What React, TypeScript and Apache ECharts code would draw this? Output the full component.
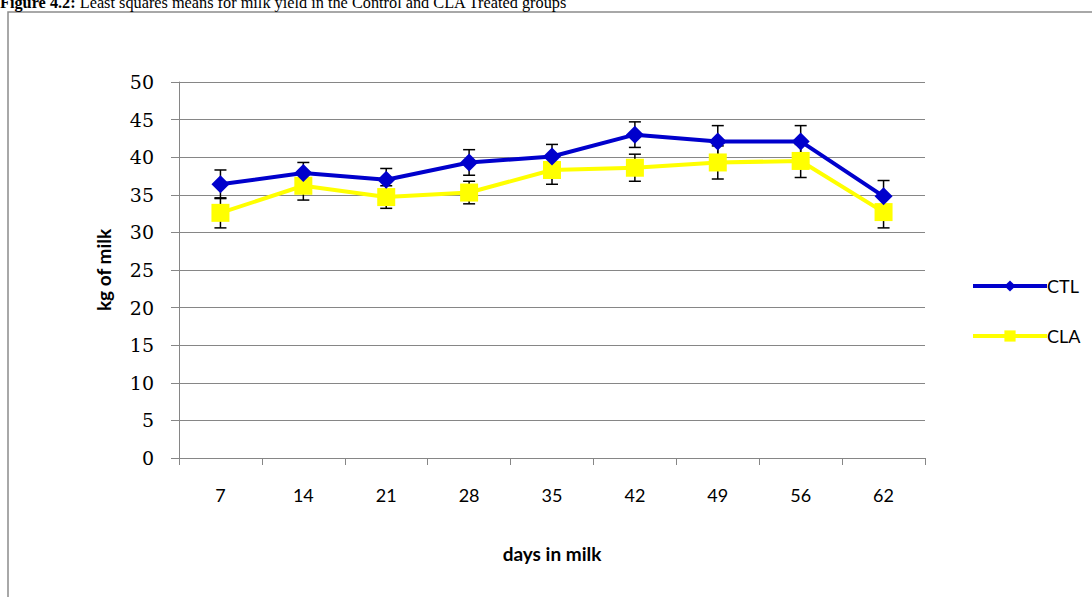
import React, { useEffect, useRef } from "react";
import * as echarts from "echarts";

const days = ["7", "14", "21", "28", "35", "42", "49", "56", "62"];
const ctl = [36.4, 37.9, 37.0, 39.3, 40.1, 43.0, 42.1, 42.1, 34.8];
const ctlErr = [1.9, 1.4, 1.5, 1.7, 1.6, 1.7, 2.1, 2.1, 2.1];
const cla = [32.6, 36.2, 34.7, 35.3, 38.3, 38.6, 39.3, 39.5, 32.7];
const claErr = [2.0, 1.9, 1.5, 1.5, 1.9, 1.8, 2.2, 2.2, 2.1];
const yTicks = { min: 0, max: 50, interval: 5 };

function errData(vals: number[], errs: number[]) {
  return vals.map((v, i) => [i, v - errs[i], v + errs[i]]);
}

const errRender = (params: any, api: any) => {
  const x = api.value(0);
  const lo = api.coord([x, api.value(1)]);
  const hi = api.coord([x, api.value(2)]);
  const hw = 6;
  const st = { stroke: "#000", lineWidth: 1.5 };
  return {
    type: "group",
    children: [
      { type: "line", shape: { x1: lo[0], y1: lo[1], x2: hi[0], y2: hi[1] }, style: st },
      { type: "line", shape: { x1: lo[0] - hw, y1: lo[1], x2: lo[0] + hw, y2: lo[1] }, style: st },
      { type: "line", shape: { x1: hi[0] - hw, y1: hi[1], x2: hi[0] + hw, y2: hi[1] }, style: st },
    ],
  };
};

export default function App() {
  const ref = useRef<HTMLDivElement>(null);
  useEffect(() => {
    document.body.style.margin = "0";
    const chart = echarts.init(ref.current!, undefined, { renderer: "svg" });
    chart.setOption({
      animation: false,
      backgroundColor: "#fff",
      graphic: [
        {
          type: "rect",
          shape: { x: 8, y: 12, width: 1200, height: 700 },
          style: { fill: "none", stroke: "#8c8c8c", lineWidth: 1.5 },
          z: 0,
        },
        {
          type: "text",
          x: 0,
          y: 2,
          style: {
            text: "{b|Figure 4.2:} Least squares means for milk yield in the Control and CLA Treated groups",
            font: "16.3px 'Liberation Serif'",
            fill: "#000",
            verticalAlign: "middle",
            rich: { b: { fontFamily: "Liberation Serif", fontSize: 16.3, fontWeight: "bold", fill: "#000" } },
          },
        },
      ],
      grid: { left: 179, right: 167, top: 82, bottom: 139, containLabel: false },
      legend: {
        orient: "vertical",
        left: 966,
        top: 272,
        itemWidth: 74,
        itemHeight: 14,
        itemGap: 32,
        lineStyle: { width: 4 },
        textStyle: { fontFamily: "Lato", fontSize: 18, color: "#000", padding: [0, 0, 0, -5] },
        data: ["CTL", "CLA"],
      },
      xAxis: {
        type: "category",
        data: days,
        boundaryGap: true,
        name: "days in milk",
        nameLocation: "middle",
        nameGap: 86,
        nameTextStyle: { fontFamily: "Lato", fontWeight: "bold", fontSize: 19, color: "#000" },
        axisLine: { lineStyle: { color: "#868686", width: 1 } },
        axisTick: { show: true, length: 7, alignWithLabel: false, lineStyle: { color: "#868686" } },
        axisLabel: { fontFamily: "Lato", fontSize: 18, color: "#000", margin: 28 },
      },
      yAxis: {
        type: "value",
        min: yTicks.min,
        max: yTicks.max,
        interval: yTicks.interval,
        name: "kg of milk",
        nameLocation: "middle",
        nameGap: 66,
        nameTextStyle: { fontFamily: "Lato", fontWeight: "bold", fontSize: 19, color: "#000" },
        axisLine: { show: true, lineStyle: { color: "#868686", width: 1 } },
        axisTick: { show: true, length: 8, lineStyle: { color: "#868686" } },
        axisLabel: { fontFamily: "DejaVu Serif", fontSize: 19, color: "#000", margin: 25 },
        splitLine: { lineStyle: { color: "#868686", width: 1 } },
      },
      series: [
        {
          type: "custom",
          name: "ctlErr",
          renderItem: errRender,
          data: errData(ctl, ctlErr),
          z: 1,
          silent: true,
        },
        {
          type: "custom",
          name: "claErr",
          renderItem: errRender,
          data: errData(cla, claErr),
          z: 1,
          silent: true,
        },
        {
          type: "line",
          name: "CLA",
          data: cla,
          symbol: "rect",
          symbolSize: 18,
          itemStyle: { color: "#ffff00" },
          lineStyle: { color: "#ffff00", width: 4 },
          z: 2,
        },
        {
          type: "line",
          name: "CTL",
          data: ctl,
          symbol: "diamond",
          symbolSize: 18,
          itemStyle: { color: "#0000cc" },
          lineStyle: { color: "#0000cc", width: 4 },
          z: 3,
        },
      ],
    });
    return () => chart.dispose();
  }, []);
  return <div ref={ref} style={{ width: 1092, height: 597 }} />;
}
